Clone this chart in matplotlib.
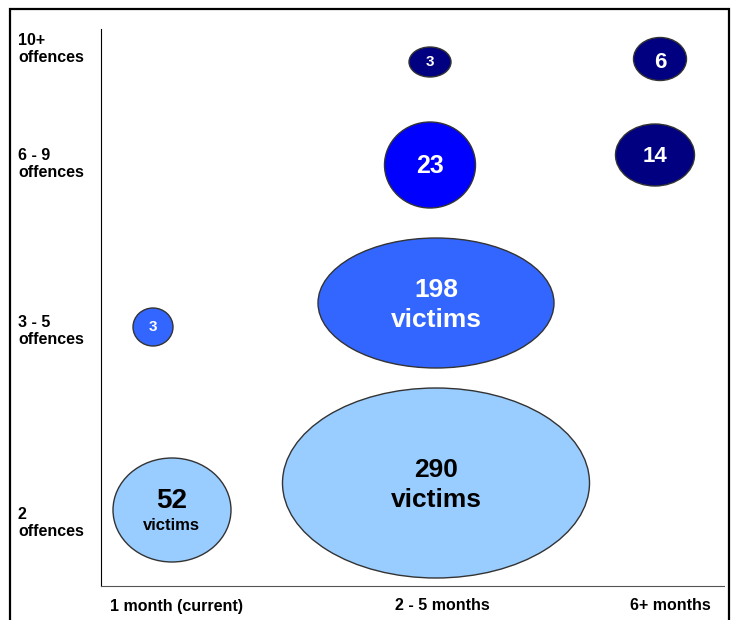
import matplotlib.pyplot as plt
from matplotlib.patches import Ellipse, Rectangle
import matplotlib.transforms as mtransforms

plt.rcParams['font.family'] = ['Liberation Sans', 'DejaVu Sans']

# categories
periods = ['1 month (current)', '2 - 5 months', '6+ months']
offences = ['2\noffences', '3 - 5\noffences', '6 - 9\noffences', '10+\noffences']

# bubbles: period index, offence index, victims, label text
b_period = [0, 1, 1, 0, 1, 1, 2, 2]
b_offence = [0, 0, 1, 1, 2, 3, 2, 3]
b_victims = [52, 290, 198, 3, 23, 3, 14, 6]
b_text = ['52', '290\nvictims', '198\nvictims', '3', '23', '3', '14', '6']

# layout (axis units ~ pixels)
period_pos = [76, 341, 569]
offence_pos = [64, 256, 423, 538]
b_dx = [-5, -6, -6, -24, -12, -12, -15, -10]
b_dy = [12, 39, 27, 3, -2, -14, 8, -11]
b_w = [118, 307, 236, 40, 91, 42, 79, 53]
b_h = [104, 190, 130, 38, 86, 30, 62, 43]
colors = ['#99CCFF', '#99CCFF', '#3366FF', '#3366FF', '#0000FF', '#000080', '#000080', '#000080']
txt_col = ['black', 'black', 'white', 'white', 'white', 'white', 'white', 'white']
txt_size = [20, 19, 19, 11, 18, 11, 16, 16]
txt_dy = [0, -2, -2, 0, -1, 0, -2, -3]

fig = plt.figure(figsize=(7.35, 6.2), dpi=100)
ax = fig.add_axes([101/735, 34/620, 623/735, 557/620])
ax.set_xlim(0, 623)
ax.set_ylim(0, 557)

for i in range(len(b_victims)):
    cx = period_pos[b_period[i]] + b_dx[i]
    cy = offence_pos[b_offence[i]] + b_dy[i]
    ax.add_patch(Ellipse((cx, cy), b_w[i], b_h[i], facecolor=colors[i],
                         edgecolor='#333333', lw=1, zorder=2))
    if i == 0:
        ax.text(cx, cy + 9, '52', ha='center', va='center', fontsize=20,
                fontweight='bold', color=txt_col[i], zorder=3)
        ax.text(cx - 1, cy - 15, 'victims', ha='center', va='center', fontsize=12,
                fontweight='bold', color=txt_col[i], zorder=3)
    else:
        ax.text(cx, cy + txt_dy[i], b_text[i], ha='center', va='center', fontsize=txt_size[i],
                fontweight='bold', color=txt_col[i], linespacing=1.3, zorder=3)

ax.set_xticks(period_pos)
ax.set_xticklabels(periods, fontsize=11.5, fontweight='bold')
ax.tick_params(axis='x', length=0, pad=9)
ax.set_yticks([])
for s in ['top', 'right']:
    ax.spines[s].set_visible(False)
ax.spines['left'].set_color('black')
ax.spines['bottom'].set_color('#555555')

trans = mtransforms.blended_transform_factory(fig.transFigure, ax.transData)
for j, lab in enumerate(offences):
    ax.text(18/735, offence_pos[j] - 1, lab, transform=trans, ha='left', va='center',
            fontsize=11.5, fontweight='bold', linespacing=1.15)

fig.add_artist(Rectangle((10/735, -0.02), 719/735, 1 - 9/620 + 0.02,
                         transform=fig.transFigure, fill=False, lw=1.6, edgecolor='black'))

fig.savefig('out.png', dpi=100)
